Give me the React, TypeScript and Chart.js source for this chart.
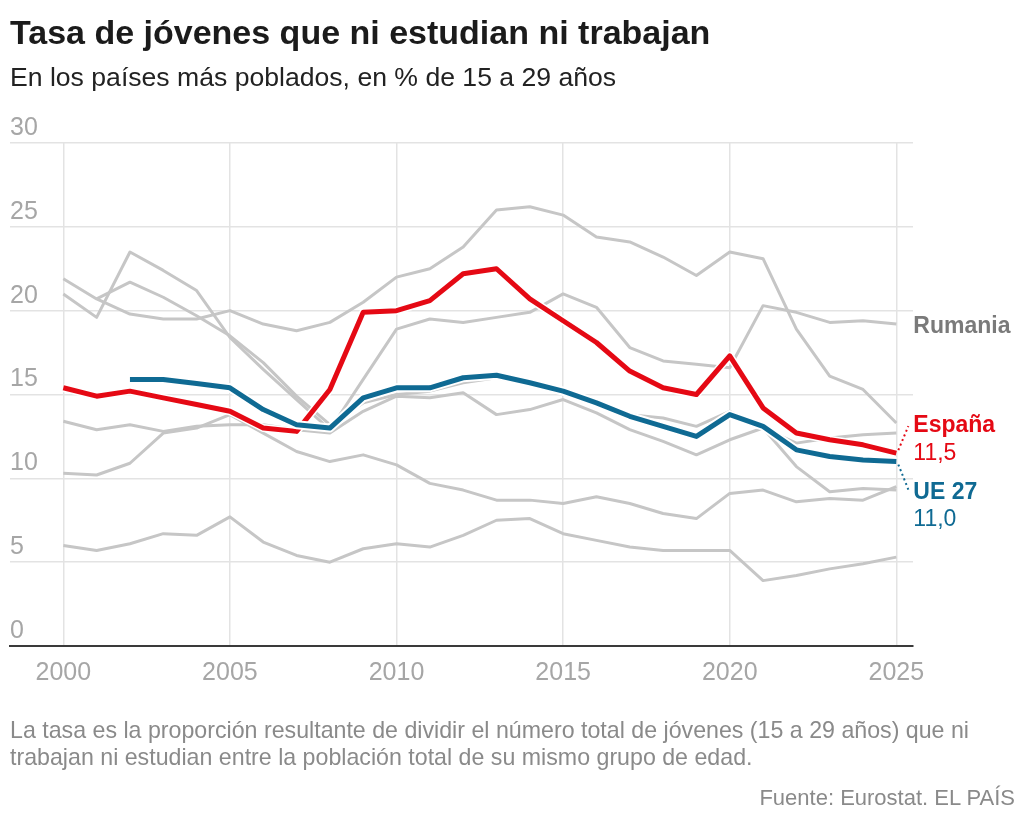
import { useEffect, useRef } from 'react';
import { Chart, registerables } from 'chart.js';

Chart.register(...registerables);

// Años de la serie (eje X)
const years = [
  2000, 2001, 2002, 2003, 2004, 2005, 2006, 2007, 2008, 2009, 2010, 2011, 2012,
  2013, 2014, 2015, 2016, 2017, 2018, 2019, 2020, 2021, 2022, 2023, 2024, 2025,
];
const xTickYears = [2000, 2005, 2010, 2015, 2020, 2025];
const yTickValues = [0, 5, 10, 15, 20, 25, 30];

// Tasa de jóvenes (15-29 años) que ni estudian ni trabajan, en %
const espana = [
  15.4, 14.9, 15.2, 14.8, 14.4, 14.0, 13.0, 12.8, 15.3, 19.9, 20.0, 20.6, 22.2,
  22.5, 20.7, 19.4, 18.1, 16.4, 15.4, 15.0, 17.3, 14.2, 12.7, 12.3, 12.0, 11.5,
];
const ue27 = [
  null, null, 15.9, 15.9, 15.65, 15.4, 14.1, 13.2, 13.0, 14.8, 15.4, 15.4, 16.0,
  16.15, 15.7, 15.2, 14.5, 13.7, 13.1, 12.5, 13.8, 13.1, 11.7, 11.3, 11.1, 11.0,
];
const italia = [
  21.9, 20.7, 19.8, 19.5, 19.5, 20.0, 19.2, 18.8, 19.3, 20.5, 22.0, 22.5, 23.8,
  26.0, 26.2, 25.7, 24.4, 24.1, 23.2, 22.1, 23.5, 23.1, 18.9, 16.1, 15.3, 13.3,
];
const rumania = [
  21.0, 19.6, 23.5, 22.4, 21.2, 18.4, 16.5, 14.7, 12.9, 15.9, 18.9, 19.5, 19.3,
  19.6, 19.9, 21.0, 20.2, 17.8, 17.0, 16.8, 16.6, 20.3, 19.9, 19.3, 19.4, 19.2,
];
const polonia = [
  null, 20.7, 21.7, 20.8, 19.7, 18.5, 16.9, 14.9, 13.2, 14.5, 15.0, 15.2, 15.7,
  16.0, 15.6, 15.1, 14.4, 13.8, 13.6, 13.1, 14.0, 13.0, 10.7, 9.2, 9.4, 9.3,
];
const francia = [
  13.4, 12.9, 13.2, 12.8, 13.1, 13.2, 13.2, 12.9, 12.7, 14.0, 14.9, 14.8, 15.1,
  13.8, 14.1, 14.7, 13.9, 12.9, 12.2, 11.4, 12.3, 13.0, 12.1, 12.4, 12.6, 12.7,
];
const alemania = [
  10.3, 10.2, 10.9, 12.7, 13.0, 13.8, 12.7, 11.6, 11.0, 11.4, 10.8, 9.7, 9.3,
  8.7, 8.7, 8.5, 8.9, 8.5, 7.9, 7.6, 9.1, 9.3, 8.6, 8.8, 8.7, 9.5,
];
const paisesBajos = [
  6.0, 5.7, 6.1, 6.7, 6.6, 7.7, 6.2, 5.4, 5.0, 5.8, 6.1, 5.9, 6.6, 7.5, 7.6,
  6.7, 6.3, 5.9, 5.7, 5.7, 5.7, 3.9, 4.2, 4.6, 4.9, 5.3,
];

const RED = '#e50914';
const BLUE = '#0f6a93';
const GREY_LINE = '#c6c6c6';
const FONT = "'Liberation Sans', Arial, sans-serif";

const toPoints = (values: (number | null)[]) =>
  years.map((yr, i) => ({ x: yr, y: values[i] }));

const fmt = (v: number) => v.toFixed(1).replace('.', ',');

// Etiquetas al final de las líneas destacadas
const endLabels = {
  id: 'endLabels',
  afterDatasetsDraw(chart: any) {
    const { ctx } = chart;
    const xs = chart.scales.x;
    const ys = chart.scales.y;
    const last = years.length - 1;
    const px = xs.getPixelForValue(years[last]);
    const lx = px + 17;

    ctx.save();
    ctx.textAlign = 'left';
    ctx.textBaseline = 'middle';

    const yRo = ys.getPixelForValue(rumania[last]);
    ctx.font = `bold 23px ${FONT}`;
    ctx.fillStyle = '#7a7a7a';
    ctx.fillText('Rumania', lx, yRo + 3);

    const yEs = ys.getPixelForValue(espana[last]);
    const yUe = ys.getPixelForValue(ue27[last] as number);

    ctx.lineWidth = 2;
    ctx.setLineDash([2, 3]);
    ctx.strokeStyle = RED;
    ctx.beginPath();
    ctx.moveTo(px + 2, yEs - 3);
    ctx.lineTo(lx - 5, yEs - 27);
    ctx.stroke();
    ctx.strokeStyle = BLUE;
    ctx.beginPath();
    ctx.moveTo(px + 2, yUe + 3);
    ctx.lineTo(lx - 5, yUe + 28);
    ctx.stroke();
    ctx.setLineDash([]);

    ctx.fillStyle = RED;
    ctx.font = `bold 23px ${FONT}`;
    ctx.fillText('España', lx, yEs - 28);
    ctx.font = `23px ${FONT}`;
    ctx.fillText(fmt(espana[last]), lx, yEs);

    ctx.fillStyle = BLUE;
    ctx.font = `bold 23px ${FONT}`;
    ctx.fillText('UE 27', lx, yUe + 31);
    ctx.font = `23px ${FONT}`;
    ctx.fillText(fmt(ue27[last] as number), lx, yUe + 58);
    ctx.restore();
  },
};

const greyDataset = (label: string, values: (number | null)[]) => ({
  label,
  data: toPoints(values),
  borderColor: GREY_LINE,
  borderWidth: 3,
});

export default function App() {
  const canvasRef = useRef<HTMLCanvasElement | null>(null);

  useEffect(() => {
    if (!canvasRef.current) return;
    const chart = new Chart(canvasRef.current, {
      type: 'line',
      data: {
        datasets: [
          { label: 'UE 27', data: toPoints(ue27), borderColor: BLUE, borderWidth: 5 },
          { label: 'UE 27 contorno', data: toPoints(ue27), borderColor: '#ffffff', borderWidth: 9 },
          { label: 'España', data: toPoints(espana), borderColor: RED, borderWidth: 5 },
          { label: 'España contorno', data: toPoints(espana), borderColor: '#ffffff', borderWidth: 8 },
          greyDataset('Rumanía', rumania),
          greyDataset('Italia', italia),
          greyDataset('Polonia', polonia),
          greyDataset('Francia', francia),
          greyDataset('Alemania', alemania),
          greyDataset('Países Bajos', paisesBajos),
        ],
      },
      options: {
        responsive: false,
        animation: false,
        events: [],
        layout: { padding: { left: 10, top: 143, right: 111, bottom: 135 } },
        elements: {
          point: { radius: 0 },
          line: { tension: 0, borderJoinStyle: 'round', borderCapStyle: 'butt', fill: false },
        },
        plugins: {
          legend: { display: false },
          tooltip: { enabled: false },
        },
        scales: {
          x: {
            type: 'linear',
            min: 1998.4,
            max: 2025.5,
            afterBuildTicks: (scale: any) => {
              scale.ticks = xTickYears.map((v) => ({ value: v }));
            },
            afterFit: (scale: any) => {
              scale.height = 40;
            },
            grid: { color: '#e3e3e3', lineWidth: 1.5, drawTicks: false },
            border: { display: true, color: '#3a3a3a', width: 2 },
            ticks: {
              padding: 12,
              color: '#a6a6a6',
              font: { family: FONT, size: 25 },
              callback: (v: any) => String(v),
              maxRotation: 0,
              autoSkip: false,
            },
          },
          y: {
            min: 0,
            max: 30,
            afterBuildTicks: (scale: any) => {
              scale.ticks = yTickValues.map((v) => ({ value: v }));
            },
            afterFit: (scale: any) => {
              scale.width = 0;
            },
            grid: { color: '#e3e3e3', lineWidth: 1.5, drawTicks: false },
            border: { display: false },
            ticks: {
              mirror: true,
              padding: 0,
              labelOffset: -15,
              color: '#a6a6a6',
              font: { family: FONT, size: 25 },
              callback: (v: any) => String(v),
            },
          },
        },
      },
      plugins: [endLabels],
    });
    return () => chart.destroy();
  }, []);

  const base: React.CSSProperties = {
    position: 'absolute',
    margin: 0,
    whiteSpace: 'nowrap',
    fontFamily: FONT,
    lineHeight: 1,
  };

  return (
    <div style={{ position: 'absolute', left: 0, top: 0, width: 1024, height: 821, background: '#fff' }}>
      <canvas ref={canvasRef} width={1024} height={821} style={{ position: 'absolute', left: 0, top: 0 }} />
      <div style={{ ...base, left: 10, top: 15, fontSize: 34, fontWeight: 'bold', color: '#1b1b1b' }}>
        Tasa de jóvenes que ni estudian ni trabajan
      </div>
      <div style={{ ...base, left: 10, top: 64, fontSize: 26.6, color: '#222' }}>
        En los países más poblados, en % de 15 a 29 años
      </div>
      <div style={{ ...base, left: 10, top: 719, fontSize: 23.2, color: '#8a8a8a' }}>
        La tasa es la proporción resultante de dividir el número total de jóvenes (15 a 29 años) que ni
      </div>
      <div style={{ ...base, left: 10, top: 746, fontSize: 23.2, color: '#8a8a8a' }}>
        trabajan ni estudian entre la población total de su mismo grupo de edad.
      </div>
      <div style={{ ...base, right: 9, top: 787, fontSize: 22, color: '#8a8a8a' }}>
        Fuente: Eurostat. EL PAÍS
      </div>
    </div>
  );
}
